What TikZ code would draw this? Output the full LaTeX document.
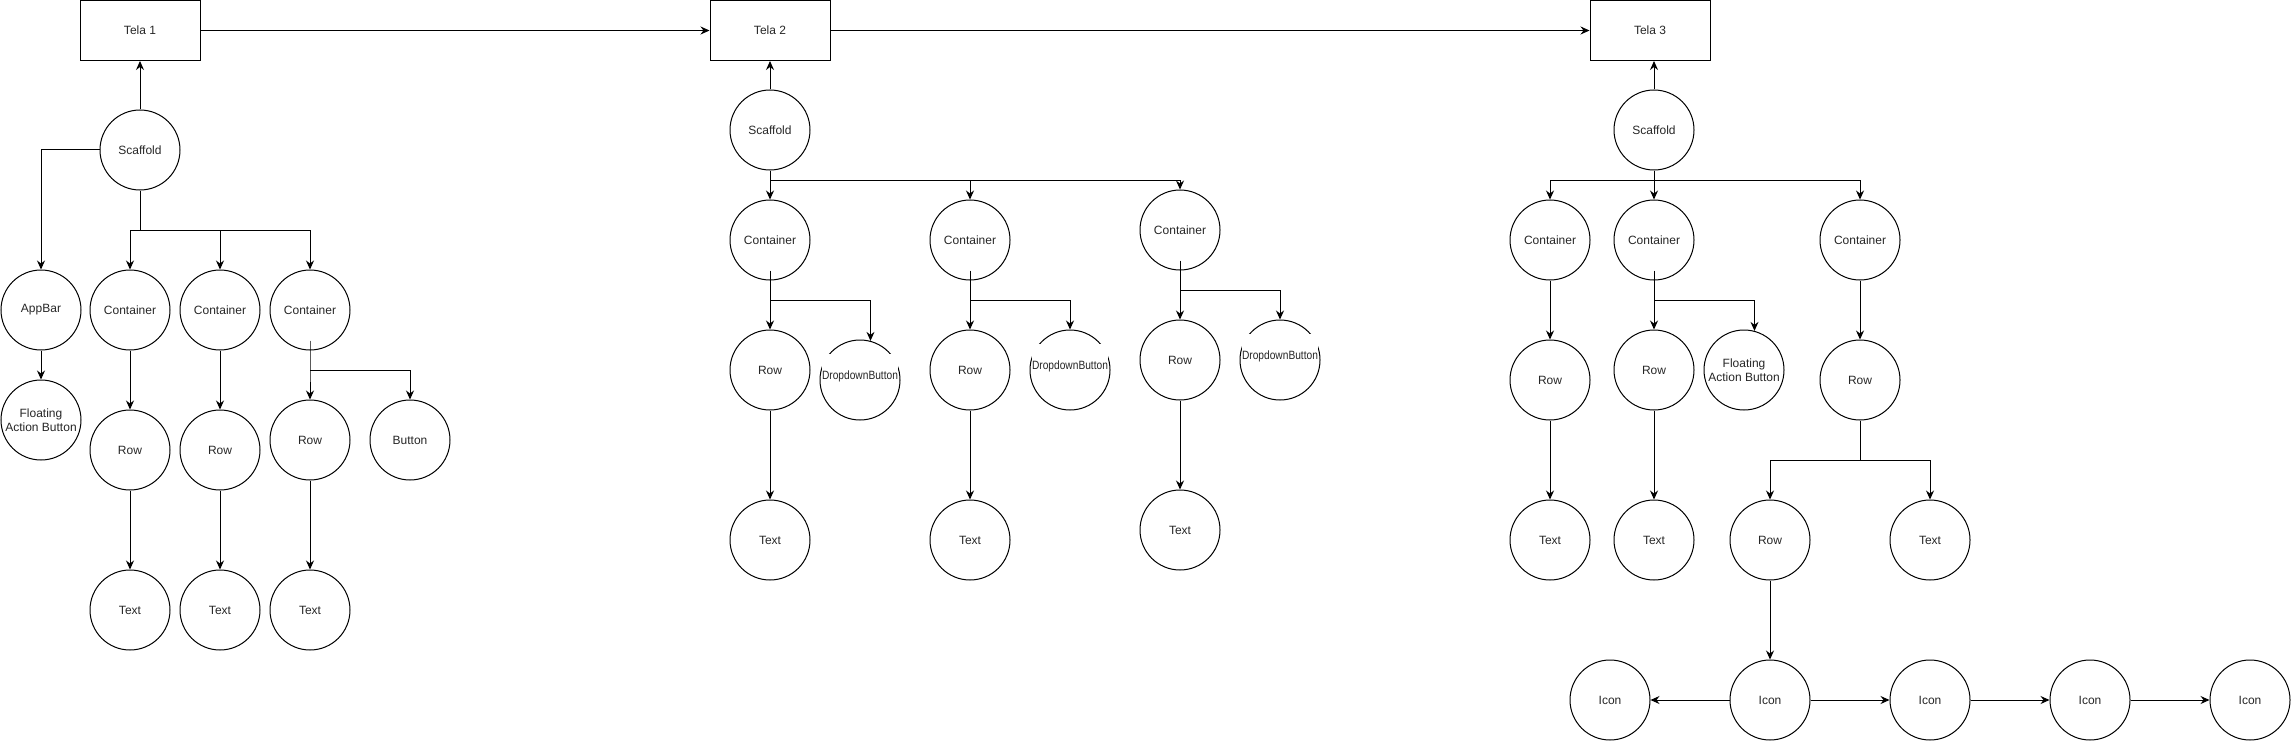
\documentclass[tikz,border=0pt]{standalone}
\usepackage{fontspec}
\usepackage{graphicx}
\setmainfont{Liberation Sans}
\usetikzlibrary{arrows.meta}
\newcommand\ddtext{\scalebox{0.85}[1]{DropdownButton}}
\begin{document}
\begin{tikzpicture}[x=1pt,y=-1pt,
  every node/.style={font=\fontsize{12}{14}\selectfont, text=black!85},
  circ/.style={draw, circle, minimum size=80pt, inner sep=0pt, line width=1pt, align=center},
  box/.style={draw, rectangle, minimum width=120pt, minimum height=60pt, line width=1pt},
  arr/.style={line width=1pt, -{Stealth[length=9pt,width=8pt,inset=3pt]}},
  ddlbl/.style={fill=white, inner sep=0pt, text height=26pt, text depth=4pt, yshift=11.5pt}
]
\useasboundingbox (0,0) rectangle (2291,741);

% screens
\node[box] (t1) at (140,30.5) {Tela 1};
\node[box] (t2) at (770,30.5) {Tela 2};
\node[box] (t3) at (1650,30.5) {Tela 3};
\draw[arr] (t1) -- (t2);
\draw[arr] (t2) -- (t3);

% tree 1
\node[circ] (sc1) at (140,150) {Scaffold};
\node[circ] (ab) at (41,310) {AppBar};
\node[circ] (fab1) at (41,420) {Floating\\Action Button};
\node[circ] (c11) at (130,310) {Container};
\node[circ] (c12) at (220,310) {Container};
\node[circ] (c13) at (310,310) {Container};
\node[circ] (r11) at (130,450) {Row};
\node[circ] (r12) at (220,450) {Row};
\node[circ] (r13) at (310,440) {Row};
\node[circ] (btn1) at (410,440) {Button};
\node[circ] (x11) at (130,610) {Text};
\node[circ] (x12) at (220,610) {Text};
\node[circ] (x13) at (310,610) {Text};

\draw[arr] (sc1) -- (t1);
\draw[arr] (sc1.west) -| (ab.north);
\draw[arr] (sc1.south) -- ++(0,40) coordinate (j1) -| (c11.north);
\draw[arr] (j1) -| (c12.north);
\draw[arr] (j1) -| (c13.north);
\draw[arr] (ab) -- (fab1);
\draw[arr] (c11) -- (r11);
\draw[arr] (c12) -- (r12);
\draw[arr] (r11) -- (x11);
\draw[arr] (r12) -- (x12);
\draw[arr] (r13) -- (x13);
\draw[arr] ([yshift=10pt]c13.south) -- ++(0,30) coordinate (j2) -| (r13.north);
\draw[arr] (j2) -| (btn1.north);

% tree 2
\node[circ] (sc2) at (770,130) {Scaffold};
\node[circ] (ca) at (770,240) {Container};
\node[circ] (cb) at (970,240) {Container};
\node[circ] (cc) at (1180,230) {Container};
\node[circ] (ra) at (770,370) {Row};
\node[circ] (rb) at (970,370) {Row};
\node[circ] (rc) at (1180,360) {Row};
\node[circ, label={[ddlbl]center:\ddtext}] (da) at (860,380) {};
\node[circ, label={[ddlbl]center:\ddtext}] (db) at (1070,370) {};
\node[circ, label={[ddlbl]center:\ddtext}] (dc) at (1280,360) {};
\node[circ] (xa) at (770,540) {Text};
\node[circ] (xb) at (970,540) {Text};
\node[circ] (xc) at (1180,530) {Text};

\draw[arr] (sc2) -- (t2);
\draw[arr] (sc2.south) -- ++(0,10) coordinate (j3) -- (ca.north);
\draw[arr] (j3) -| (cb.north);
\draw[arr] (j3) -| (cc.north);
\draw[arr] ([yshift=10pt]ca.south) -- ++(0,30) coordinate (j4) -- (ra.north);
\draw[arr] (j4) -| (da.75.5);
\draw[arr] ([yshift=10pt]cb.south) -- ++(0,30) coordinate (j5) -- (rb.north);
\draw[arr] (j5) -| (db.north);
\draw[arr] ([yshift=10pt]cc.south) -- ++(0,30) coordinate (j6) -- (rc.north);
\draw[arr] (j6) -| (dc.north);
\draw[arr] (ra) -- (xa);
\draw[arr] (rb) -- (xb);
\draw[arr] (rc) -- (xc);

% tree 3
\node[circ] (sc3) at (1654,130) {Scaffold};
\node[circ] (d1) at (1550,240) {Container};
\node[circ] (d2) at (1654,240) {Container};
\node[circ] (d3) at (1860,240) {Container};
\node[circ] (e1) at (1550,380) {Row};
\node[circ] (e2) at (1654,370) {Row};
\node[circ] (fab3) at (1744,370) {Floating\\Action Button};
\node[circ] (e3) at (1860,380) {Row};
\node[circ] (g1) at (1550,540) {Text};
\node[circ] (g2) at (1654,540) {Text};
\node[circ] (e4) at (1770,540) {Row};
\node[circ] (g4) at (1930,540) {Text};
\node[circ] (i1) at (1610,700) {Icon};
\node[circ] (i2) at (1770,700) {Icon};
\node[circ] (i3) at (1930,700) {Icon};
\node[circ] (i4) at (2090,700) {Icon};
\node[circ] (i5) at (2250,700) {Icon};

\draw[arr] (sc3) -- (sc3 |- t3.south);
\draw[arr] (sc3.south) -- ++(0,10) coordinate (j7) -| (d1.north);
\draw[arr] (j7) -- (d2.north);
\draw[arr] (j7) -| (d3.north);
\draw[arr] (d1) -- (e1);
\draw[arr] (e1) -- (g1);
\draw[arr] ([yshift=10pt]d2.south) -- ++(0,30) coordinate (j8) -- (e2.north);
\draw[arr] (j8) -| (fab3.75.5);
\draw[arr] (e2) -- (g2);
\draw[arr] (d3) -- (e3);
\draw[arr] (e3.south) -- ++(0,40) coordinate (j9) -| (e4.north);
\draw[arr] (j9) -| (g4.north);
\draw[arr] (e4) -- (i2);
\draw[arr] (i2) -- (i1);
\draw[arr] (i2) -- (i3);
\draw[arr] (i3) -- (i4);
\draw[arr] (i4) -- (i5);
\end{tikzpicture}
\end{document}
